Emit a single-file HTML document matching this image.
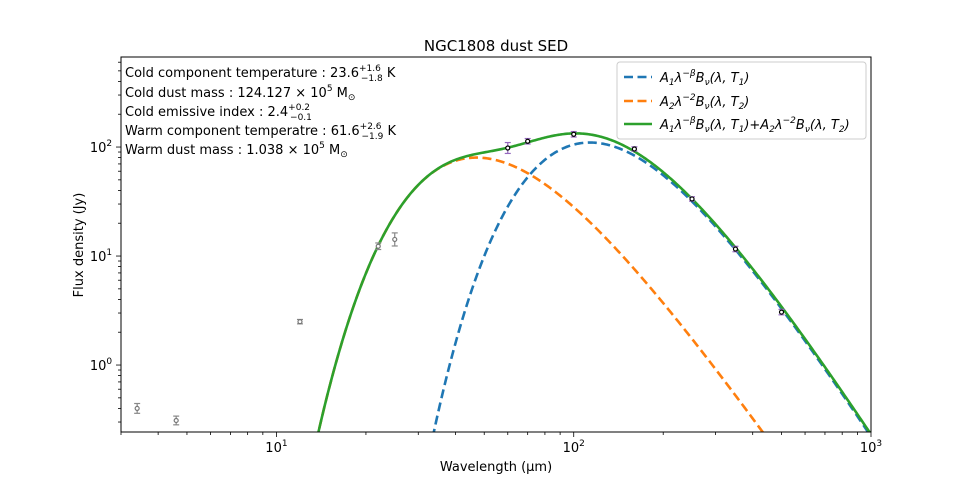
<!DOCTYPE html>
<html><head><meta charset="utf-8"><style>
html,body{margin:0;background:#fff;overflow:hidden;width:969px;height:485px;}
svg{font-family:"DejaVu Sans","Liberation Sans",sans-serif;display:block;}
</style></head><body>
<svg id="chart" width="969" height="485" style="position:absolute;left:0;top:0"></svg>
<script>
const wlBlack=[60,70,100,160,250,350,500];
const fluxBlack=[98,113,131,96,33.4,11.6,3.06];
const errBlack=[0.05,0.025,0.025,0.02,0.02,0.025,0.025];
const wlGray=[3.4,4.6,12,22,25];
const fluxGray=[0.40,0.31,2.5,12.3,14.2];
const errGray=[0.045,0.04,0.02,0.03,0.06];
const coldT=23.6, coldBeta=2.4, coldPeak=110;
const warmT=61.6, warmBeta=2, warmPeak=80;
const xTicks=[10,100,1000];
const yTicks=[1,10,100];

const L=121,R=871,T=57,B=432;
const xmin=Math.log10(3),xmax=3,ymin=Math.log10(0.243),ymax=Math.log10(670);
const sx=v=>L+(Math.log10(v)-xmin)/(xmax-xmin)*(R-L);
const sy=v=>B-(Math.log10(v)-ymin)/(ymax-ymin)*(B-T);
const NS="http://www.w3.org/2000/svg";
const svg=document.getElementById('chart');
function mk(tag,attrs,parent){const e=document.createElementNS(NS,tag);for(const k in attrs)e.setAttribute(k,attrs[k]);(parent||svg).appendChild(e);return e;}

function shape(l,Tk,beta){const x=14388/(l*Tk);return Math.pow(x,3+beta)/(Math.exp(x)-1);}
const grid=[];for(let i=0;i<=600;i++)grid.push(Math.pow(10,xmin+(xmax-xmin)*i/600));
function norm(Tk,beta,peak){let m=0;grid.forEach(l=>{m=Math.max(m,shape(l,Tk,beta));});return l=>peak*shape(l,Tk,beta)/m;}
const cold=norm(coldT,coldBeta,coldPeak), warm=norm(warmT,warmBeta,warmPeak);

const defs=mk('defs',{});const cp=mk('clipPath',{id:'cp'},defs);mk('rect',{x:L,y:T,width:R-L,height:B-T},cp);
function curve(f,color,dash,name){
  let d='';grid.forEach((l,i)=>{let v=f(l);v=Math.max(v,1e-3);d+=(i?'L':'M')+sx(l).toFixed(2)+','+sy(v).toFixed(2);});
  const p=mk('path',{d:d,fill:'none',stroke:color,'stroke-width':2.6,'stroke-dasharray':dash||'none','clip-path':'url(#cp)'});
  
  
}
curve(cold,'#1f77b4','9,4.5','cold-component-line');
curve(warm,'#ff7f0e','9,4.5','warm-component-line');
curve(l=>cold(l)+warm(l),'#2ca02c',null,'total-model-line');

function pts(ws,fs,es,ecol,name){
  ws.forEach((w,i)=>{
    const g=mk('g',{});
    
    
    const x=sx(w),y1=sy(fs[i]*Math.pow(10,es[i])),y2=sy(fs[i]/Math.pow(10,es[i])),y=sy(fs[i]);
    mk('line',{x1:x,x2:x,y1:y1,y2:y2,stroke:ecol,'stroke-width':1.2},g);
    mk('line',{x1:x-3,x2:x+3,y1:y1,y2:y1,stroke:ecol,'stroke-width':1.2},g);
    mk('line',{x1:x-3,x2:x+3,y1:y2,y2:y2,stroke:ecol,'stroke-width':1.2},g);
    mk('circle',{cx:x,cy:y,r:2,fill:'#fff',stroke:ecol==='#888'?'#777':'#000','stroke-width':1.2},g);
  });
}
pts(wlGray,fluxGray,errGray,'#888','gray-data-point');
pts(wlBlack,fluxBlack,errBlack,'#9467bd','data-point');

mk('rect',{x:L,y:T,width:R-L,height:B-T,fill:'none',stroke:'#000','stroke-width':1});
for(let e=0;e<=3;e++)for(let m=1;m<10;m++){const v=m*Math.pow(10,e);if(v<3||v>1000)continue;const x=sx(v);const len=m===1?5:3;mk('line',{x1:x,x2:x,y1:B,y2:B+len,stroke:'#000','stroke-width':0.8});}
for(let e=-1;e<=2;e++)for(let m=1;m<10;m++){const v=m*Math.pow(10,e);if(v<0.243||v>670)continue;const y=sy(v);const len=m===1?5:3;mk('line',{x1:L,x2:L-len,y1:y,y2:y,stroke:'#000','stroke-width':0.8});}
xTicks.forEach(v=>{const t=mk('text',{x:sx(v),y:B+20,'font-size':13,'text-anchor':'middle'});t.innerHTML='10<tspan dy="-6" font-size="9">'+Math.log10(v)+'</tspan>';});
yTicks.forEach(v=>{const t=mk('text',{x:L-20,y:sy(v)+5,'font-size':13,'text-anchor':'middle'});t.innerHTML='10<tspan dy="-6" font-size="9">'+Math.log10(v)+'</tspan>';});
</script>
<svg width="969" height="485" style="position:absolute;left:0;top:0">
<text x="496" y="51" font-size="15" text-anchor="middle">NGC1808 dust SED</text>
<text x="496" y="471" font-size="13" text-anchor="middle">Wavelength (μm)</text>
<text transform="translate(83,245) rotate(-90)" font-size="13" text-anchor="middle">Flux density (Jy)</text>
<g font-size="13">
<text x="125" y="77">Cold component temperature : 23.6<tspan font-size="9" dy="-6">+1.6</tspan><tspan font-size="9" dx="-20" dy="10">−1.8</tspan><tspan dy="-4"> K</tspan></text>
<text x="125" y="97">Cold dust mass : 124.127 × 10<tspan font-size="9" dy="-6">5</tspan><tspan dy="6"> M</tspan><tspan font-size="9" dy="3">⊙</tspan></text>
<text x="125" y="116">Cold emissive index : 2.4<tspan font-size="9" dy="-6">+0.2</tspan><tspan font-size="9" dx="-20" dy="10">−0.1</tspan></text>
<text x="125" y="135">Warm component temperatre : 61.6<tspan font-size="9" dy="-6">+2.6</tspan><tspan font-size="9" dx="-20" dy="10">−1.9</tspan><tspan dy="-4"> K</tspan></text>
<text x="125" y="154">Warm dust mass : 1.038 × 10<tspan font-size="9" dy="-6">5</tspan><tspan dy="6"> M</tspan><tspan font-size="9" dy="3">⊙</tspan></text>
</g>
<g font-size="13" font-style="italic">
<rect x="617" y="62" width="249" height="77" rx="3" fill="#fff" stroke="#ccc"/>
<line x1="624" x2="652" y1="77" y2="77" stroke="#1f77b4" stroke-width="2.6" stroke-dasharray="9,4.5"/>
<text x="660" y="82">A<tspan font-size="9" dy="3">1</tspan><tspan dy="-3">λ</tspan><tspan font-size="9" dy="-6">−β</tspan><tspan dy="6">B</tspan><tspan font-size="9" dy="3">ν</tspan><tspan dy="-3">(λ, T</tspan><tspan font-size="9" dy="3">1</tspan><tspan dy="-3">)</tspan></text>
<line x1="624" x2="652" y1="101" y2="101" stroke="#ff7f0e" stroke-width="2.6" stroke-dasharray="9,4.5"/>
<text x="660" y="106">A<tspan font-size="9" dy="3">2</tspan><tspan dy="-3">λ</tspan><tspan font-size="9" dy="-6">−2</tspan><tspan dy="6">B</tspan><tspan font-size="9" dy="3">ν</tspan><tspan dy="-3">(λ, T</tspan><tspan font-size="9" dy="3">2</tspan><tspan dy="-3">)</tspan></text>
<line x1="624" x2="652" y1="124" y2="124" stroke="#2ca02c" stroke-width="2.6"/>
<text x="660" y="129">A<tspan font-size="9" dy="3">1</tspan><tspan dy="-3">λ</tspan><tspan font-size="9" dy="-6">−β</tspan><tspan dy="6">B</tspan><tspan font-size="9" dy="3">ν</tspan><tspan dy="-3">(λ, T</tspan><tspan font-size="9" dy="3">1</tspan><tspan dy="-3">)+A</tspan><tspan font-size="9" dy="3">2</tspan><tspan dy="-3">λ</tspan><tspan font-size="9" dy="-6">−2</tspan><tspan dy="6">B</tspan><tspan font-size="9" dy="3">ν</tspan><tspan dy="-3">(λ, T</tspan><tspan font-size="9" dy="3">2</tspan><tspan dy="-3">)</tspan></text>
</g>
</svg>
</body></html>
